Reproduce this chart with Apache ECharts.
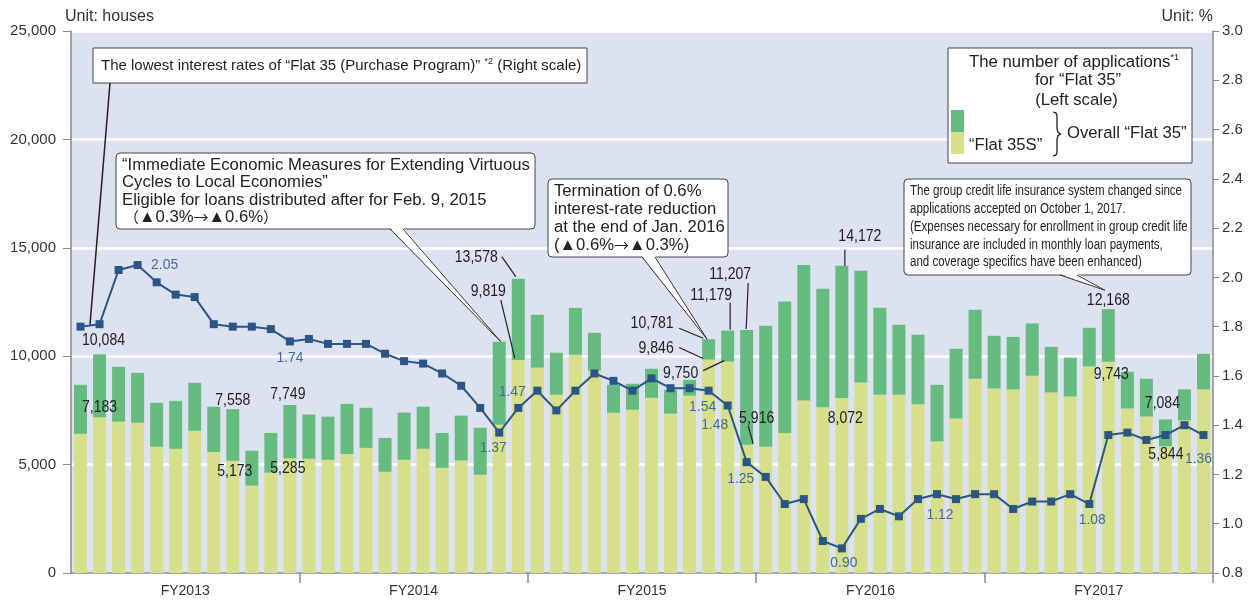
<!DOCTYPE html>
<html><head><meta charset="utf-8">
<script src="https://cdn.jsdelivr.net/npm/echarts@6/dist/echarts.min.js"></script>
<style>html,body{margin:0;padding:0;background:#fff}#c{width:1255px;height:601px}</style>
</head><body><div id="c"></div><script>
// ---- data ----
const months = ['2013/4','2013/5','2013/6','2013/7','2013/8','2013/9','2013/10','2013/11','2013/12',
'2014/1','2014/2','2014/3','2014/4','2014/5','2014/6','2014/7','2014/8','2014/9','2014/10','2014/11','2014/12',
'2015/1','2015/2','2015/3','2015/4','2015/5','2015/6','2015/7','2015/8','2015/9','2015/10','2015/11','2015/12',
'2016/1','2016/2','2016/3','2016/4','2016/5','2016/6','2016/7','2016/8','2016/9','2016/10','2016/11','2016/12',
'2017/1','2017/2','2017/3','2017/4','2017/5','2017/6','2017/7','2017/8','2017/9','2017/10','2017/11','2017/12',
'2018/1','2018/2','2018/3'];
const fiscalYears = ['FY2013','FY2014','FY2015','FY2016','FY2017'];
const overallFlat35 = [8680,10084,9510,9230,7850,7940,8770,7670,7558,5640,6460,7749,
7310,7210,7800,7620,6230,7400,7670,6460,7260,6700,10670,13578,
11910,10160,12230,11080,8680,8730,9420,8450,8910,10781,11179,11207,
11400,12520,14210,13110,14172,13940,12230,11450,10990,8680,10340,12140,
10940,10890,11510,10430,9930,11310,12168,9280,8960,7084,8470,10110];
const flat35S = [6420,7183,6980,6930,5820,5730,6560,5580,5173,4030,4630,5285,
5270,5220,5490,5770,4670,5220,5730,4850,5190,4530,6840,9819,
9470,8220,10070,9340,7390,7530,8080,7350,8180,9846,9750,5916,
5820,6460,7960,7640,8072,8790,8220,8220,7780,6070,7130,8960,
8510,8470,9100,8330,8140,9530,9743,7590,7220,5844,7040,8470];
const lowestRate = [1.80,1.81,2.03,2.05,1.98,1.93,1.92,1.81,1.80,1.80,1.79,1.74,
1.75,1.73,1.73,1.73,1.69,1.66,1.65,1.61,1.56,1.47,1.37,1.47,
1.54,1.46,1.54,1.61,1.58,1.54,1.59,1.55,1.55,1.54,1.48,1.25,
1.19,1.08,1.10,0.93,0.90,1.02,1.06,1.03,1.10,1.12,1.10,1.12,
1.12,1.06,1.09,1.09,1.12,1.08,1.36,1.37,1.34,1.36,1.40,1.36];
const leftTicks = [0,5000,10000,15000,20000,25000];
const rightTicks = [0.8,1.0,1.2,1.4,1.6,1.8,2.0,2.2,2.4,2.6,2.8,3.0];

// ---- derived for stacking ----
const otherThan35S = overallFlat35.map((v,i)=>v-flat35S[i]);

// ---- styles ----
const C_GREEN = '#66bb7f', C_YELLOW = '#d6e08a', C_LINE = '#2c5587', C_LBLUE = '#44689c';
const FONT = '"Liberation Sans", Arial, sans-serif';
const CJK = '"Noto Sans CJK JP", sans-serif';

// label placements (index -> offset from the mark) : styling only
const rateLabelPos = {3:[27,0],11:[0,16],22:[-6,15],23:[-6,-16],33:[-6,16],34:[-13,19],35:[-6,17],40:[2,14],45:[3,21],53:[3,16],59:[-5,24]};
const totalLabelPos = {1:{d:[4,-14]},8:{d:[0,-9]},11:{d:[-2,-11]},
  23:{d:[-42,-21],l:[[-16.5,-22],[-2.5,-2]]},
  33:{d:[-56.5,-16],l:[[-29.5,-11],[-5.5,-1]]},
  34:{d:[-16.5,-35],l:[[2.5,-28],[2.5,-1]]},
  35:{d:[-16.5,-56],l:[[1.5,-47],[-0.5,-1]]},
  40:{d:[18,-29],l:[[3,-16],[3,0]]},
  54:{d:[0,-9]},57:{d:[-3,-16]}};
const s35LabelPos = {1:{d:[0,-10]},8:{d:[2,11]},11:{d:[-2,10.5]},
  23:{d:[-30,-69],l:[[-17.5,-60],[-3.5,-2]]},
  33:{d:[-52.5,-11],l:[[-29.5,-12],[-5.5,-1]]},
  34:{d:[-47,12],l:[[-24.5,9],[-3.5,-1]]},
  35:{d:[10,-26],l:[[1.5,-19],[6.5,-1]]},
  40:{d:[3.5,20]},54:{d:[3,13]},57:{d:[0.5,8]}};

const chart = echarts.init(document.getElementById('c'), null, {renderer:'canvas'});
const fmt = v => v.toLocaleString('en-US');
chart.setOption({
  animation:false,
  grid:{left:71,right:42,top:31,bottom:28,show:true,backgroundColor:'#dde2f1',borderWidth:0},
  xAxis:[
    {type:'category',data:months,axisLine:{lineStyle:{color:'#8a8a8a',width:1.5}},
     axisTick:{show:true,length:10,interval:(i)=>i>0&&i<months.length&&i%12===0,lineStyle:{color:'#8a8a8a',width:1.5}},
     axisLabel:{show:false},splitLine:{show:false}},
    {type:'category',data:fiscalYears,position:'bottom',axisLine:{show:false},axisTick:{show:false},
     axisLabel:{color:'#333',fontSize:14,fontFamily:FONT,margin:11},splitLine:{show:false}}
  ],
  yAxis:[
    {type:'value',min:leftTicks[0],max:leftTicks[leftTicks.length-1],interval:5000,
     axisLine:{show:true,lineStyle:{color:'#8a8a8a',width:1.5}},
     axisTick:{show:true,length:8,lineStyle:{color:'#8a8a8a'}},
     axisLabel:{color:'#333',fontSize:15,fontFamily:FONT,margin:15,formatter:v=>fmt(v)},
     splitLine:{show:true,lineStyle:{color:'#ffffff',width:2.5}}},
    {type:'value',min:rightTicks[0],max:rightTicks[rightTicks.length-1],interval:0.2,position:'right',
     axisLine:{show:true,lineStyle:{color:'#8a8a8a',width:1.5}},
     axisTick:{show:true,length:6,lineStyle:{color:'#8a8a8a'}},
     axisLabel:{color:'#333',fontSize:15,fontFamily:FONT,margin:9,formatter:v=>v.toFixed(1)},
     splitLine:{show:false}}
  ],
  series:[
    {name:'“Flat 35S”',type:'bar',stack:'apps',data:flat35S,barWidth:13,itemStyle:{color:C_YELLOW},z:2},
    {name:'Other “Flat 35”',type:'bar',stack:'apps',data:otherThan35S,barWidth:13,itemStyle:{color:C_GREEN},z:2},
    {name:'Lowest interest rate',type:'line',yAxisIndex:1,data:lowestRate,symbol:'rect',symbolSize:8,
     itemStyle:{color:C_LINE},lineStyle:{color:C_LINE,width:2},z:5}
  ]
});

// text measurement for condensed rendering
const mctx = document.createElement('canvas').getContext('2d');
function measure(s,font){ mctx.font=font; return mctx.measureText(s).width; }

function px(i,v,series){ return chart.convertToPixel({seriesIndex:series},[i,v]); }
const G = [];
function txt(x,y,text,opt,sx){ const e = {type:'text',x:x,y:y,z:100,silent:true,
  style:Object.assign({text:text,fill:'#222',font:'16.7px '+FONT,align:'left',verticalAlign:'middle'},opt||{})};
  if(sx) e.scaleX = sx; G.push(e); }
function line(a,b,w){ G.push({type:'line',z:100,silent:true,shape:{x1:a[0],y1:a[1],x2:b[0],y2:b[1]},style:{stroke:'#222',lineWidth:w||1}}); }
function rect(x,y,w,h,r){ G.push({type:'rect',z:99,silent:true,shape:{x:x,y:y,width:w,height:h,r:r||0},style:{fill:'#fff',stroke:'#444',lineWidth:1}}); }
function wedge(b1,b2,tip){
  G.push({type:'polygon',z:101,silent:true,shape:{points:[[b1[0],b1[1]-1.5],tip,[b2[0],b2[1]-1.5]]},style:{fill:'#fff'}});
  G.push({type:'polyline',z:101,silent:true,shape:{points:[b1,tip,b2]},style:{stroke:'#333',lineWidth:1,fill:null}});
}
const NUMF = '16.5px '+FONT;
const NUMSX = 43/measure('10,084',NUMF);
const RATEF = '15.5px '+FONT;
const RATESX = 27/measure('2.05',RATEF);

// rate labels
Object.keys(rateLabelPos).forEach(k=>{const i=+k;const p=px(i,lowestRate[i],2);const d=rateLabelPos[k];
  txt(p[0]+d[0],p[1]+d[1],lowestRate[i].toFixed(2),{fill:C_LBLUE,font:RATEF,align:'center'},RATESX);});
// bar value labels
function barLabels(arr,pos){Object.keys(pos).forEach(k=>{const i=+k;const p=px(i,arr[i],0);const c=pos[k];
  txt(p[0]+c.d[0],p[1]+c.d[1],fmt(arr[i]),{font:NUMF,align:'center',fill:'#1e1e1e'},NUMSX);
  if(c.l) line([p[0]+c.l[0][0],p[1]+c.l[0][1]],[p[0]+c.l[1][0],p[1]+c.l[1][1]],1.2);});}
barLabels(overallFlat35,totalLabelPos);
barLabels(flat35S,s35LabelPos);

const supRich = (size)=>({a:{font:size+'px '+FONT,fill:'#222'},s:{font:'9px '+FONT,fill:'#222',verticalAlign:'top',padding:[0,0,8,0]}});
const arrowRich = {a:{font:'16.7px '+FONT,fill:'#222'},c:{font:'15px '+CJK,fill:'#222'}};

// callout 1 : rate line
rect(93,48,494,35,0);
txt(101,66,'{a|The lowest interest rates of “Flat 35 (Purchase Program)” }{s|*2}{a| (Right scale)}',{rich:supRich(15)});
{const p=px(0,lowestRate[0],2); line([110,83],[p[0]+9.5,p[1]-2],1.5);}

// callout 2
rect(116,153,419,76,4);
txt(122,165,'“Immediate Economic Measures for Extending Virtuous');
txt(122,182.5,'Cycles to Local Economies”');
txt(122,200,'Eligible for loans distributed after for Feb. 9, 2015');
txt(124,217.5,'{c|（}{a|▲0.3%}{c|→}{a|▲0.6%}{c|）}',{rich:arrowRich});
{const q=px(22,overallFlat35[22],0); wedge([390,229],[403,229],[q[0]+1.5,q[1]]);}

// callout 3
rect(548,179,180,78,4);
txt(554,191,'Termination of 0.6%');
txt(554,209,'interest-rate reduction');
txt(554,227,'at the end of Jan. 2016');
txt(554,245,'{a|(▲0.6%}{c|→}{a|▲0.3%)}',{rich:arrowRich});
{const q=px(33,overallFlat35[33],0); wedge([642,257],[655,257],[q[0]-1.5,q[1]]);}

// callout 4
rect(904,179,287,96,4);
const SMALLF = '14px '+FONT;
const c4 = ['The group credit life insurance system changed since','applications accepted on October 1, 2017.',
 '(Expenses necessary for enrollment in group credit life','insurance are included in monthly loan payments,',
 'and coverage specifics have been enhanced)'];
const C4SX = 272/measure(c4[0],SMALLF);
c4.forEach((s,j)=>txt(910,191+j*17.9,s,{font:SMALLF},C4SX));
{const q=px(54,overallFlat35[54],0); wedge([1060,275],[1077,275],[q[0]-3.5,q[1]-19]);}

// legend box
rect(948,48,244,115,0);
txt(1074,62,'{a|The number of applications}{s|*1}',{align:'center',rich:supRich(16.7)});
txt(1078,80,'for “Flat 35”',{align:'center'});
txt(1076.5,100,'(Left scale)',{align:'center'});
G.push({type:'rect',z:100,silent:true,shape:{x:951,y:110,width:13,height:22},style:{fill:C_GREEN}});
G.push({type:'rect',z:100,silent:true,shape:{x:951,y:132,width:13,height:22},style:{fill:C_YELLOW}});
txt(969,145,'“Flat 35S”');
G.push({type:'polyline',z:100,silent:true,shape:{points:[[1053,112],[1055.8,112.8],[1057,115.5],[1057,129],[1058,132.3],[1060.5,134],[1058,135.7],[1057,139],[1057,152.5],[1055.8,155.2],[1053,156]]},style:{stroke:'#222',lineWidth:1.3,fill:null}});
txt(1067,133,'Overall “Flat 35”');

// units
txt(65,17,'Unit: houses',{font:'16px '+FONT,fill:'#333'});
txt(1213,17,'Unit: %',{font:'16px '+FONT,fill:'#333',align:'right'});

chart.setOption({graphic:G});
</script></body></html>
